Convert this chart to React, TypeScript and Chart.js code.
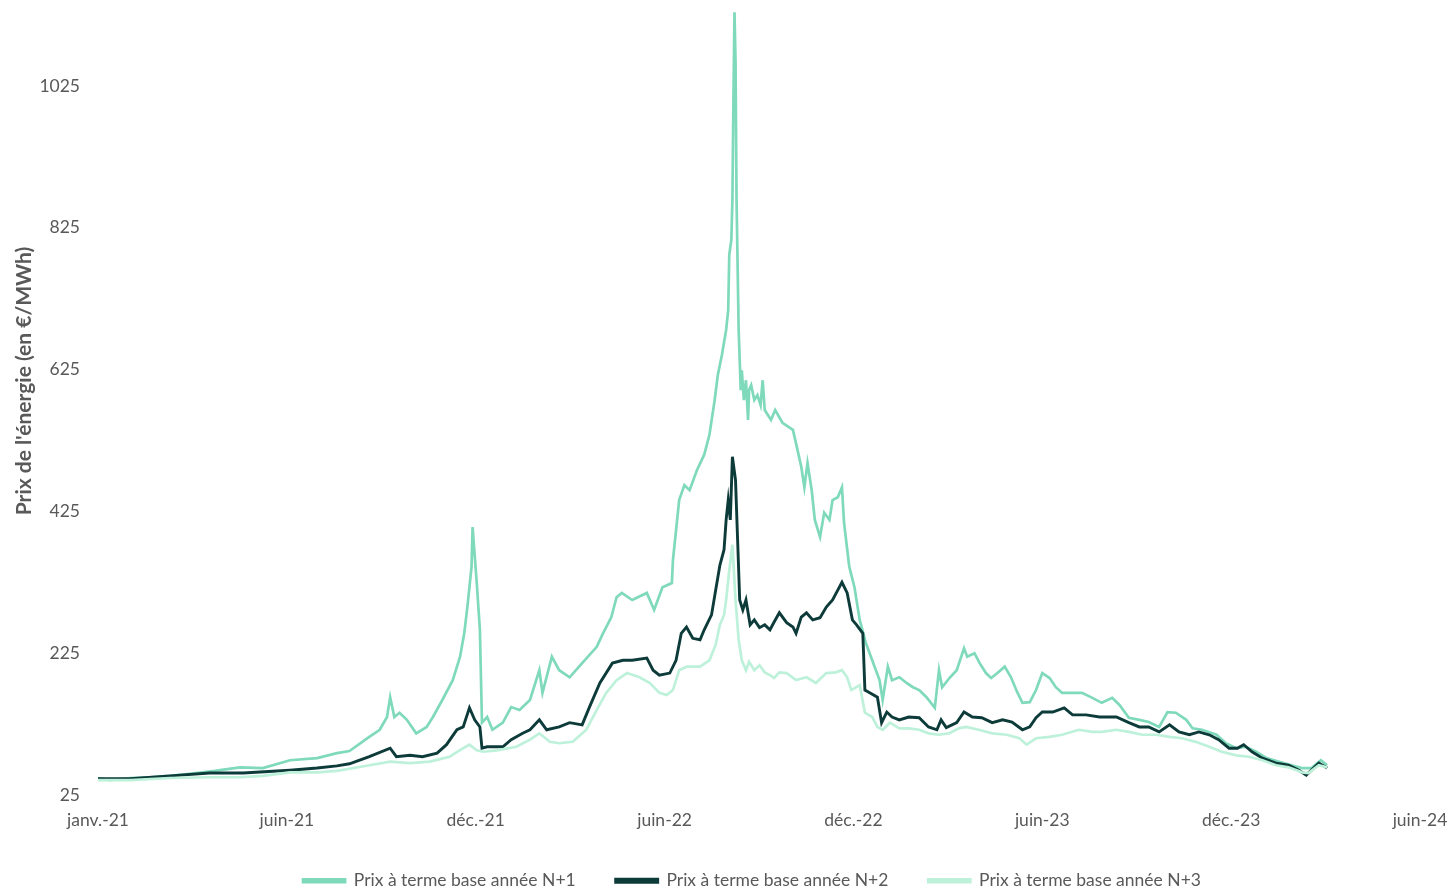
import React, { useEffect, useRef } from "react";
import { Chart, registerables } from "chart.js";

Chart.register(...registerables);

// x = days since 31/12/2020
const xTickDays = [0, 181, 362, 543, 724, 905, 1086, 1267];
const xTickLabels = ["janv.-21", "juin-21", "déc.-21", "juin-22", "déc.-22", "juin-23", "déc.-23", "juin-24"];
const yTicks = [25, 225, 425, 625, 825, 1025];
const seriesLabels = ["Prix à terme base année N+1", "Prix à terme base année N+2", "Prix à terme base année N+3"];
const yTitle = "Prix de l'énergie (en €/MWh)";

const n1Days = [0,11,31,50,69,88,112,136,158,184,210,229,241,260,270,277,280,284,289,296,305,315,321,330,340,347,351,354,358,359,363,366,368,373,378,388,396,404,414,423,426,435,442,452,464,478,484,492,497,502,512,526,533,541,550,551,557,562,567,574,581,586,591,594,598,602,604,605,607,608,609,610,611,612,614,616,617,619,621,623,624,626,629,632,635,637,639,642,645,649,656,666,669,674,677,680,684,687,692,696,701,704,709,713,715,720,725,730,736,742,749,752,757,761,768,775,781,787,794,802,806,809,816,823,830,833,840,845,851,856,862,869,875,881,886,893,899,905,912,918,924,934,943,953,962,972,979,988,998,1007,1017,1025,1033,1043,1049,1058,1072,1081,1091,1100,1110,1120,1132,1144,1154,1163,1172,1178];
const n1Values = [49,46,49,50,52,55,59,64,63,74,77,84,87,107,117,135,163,135,141,131,112,121,135,159,187,220,253,290,347,403,324,258,127,135,117,127,149,145,159,201,169,220,201,191,211,234,253,276,304,310,300,310,286,318,324,356,441,462,455,483,505,533,582,617,646,681,709,787,808,864,1005,1129,1061,864,681,596,624,582,610,554,596,603,582,589,575,610,568,561,554,568,550,540,521,488,459,493,455,413,389,423,413,441,445,459,409,347,318,272,239,215,187,159,206,187,191,183,177,173,163,148,201,177,190,201,232,220,225,211,197,190,197,206,191,170,155,156,173,197,190,177,169,169,169,162,155,162,152,134,131,128,121,142,141,131,119,117,110,98,91,93,86,77,72,67,63,63,74,67];

const n2Days = [0,31,69,107,139,184,210,229,241,260,280,286,299,311,325,334,344,350,356,361,366,368,373,388,396,407,414,423,430,442,452,464,471,481,493,503,512,526,532,538,548,554,559,564,570,577,581,588,592,596,600,602,604,606,608,611,613,615,618,621,625,629,634,639,644,648,653,660,666,669,674,679,685,692,698,704,709,713,718,723,727,733,735,740,747,751,756,761,768,777,787,796,804,808,813,823,830,838,847,857,867,876,886,893,899,905,915,926,934,947,960,976,988,998,1007,1017,1027,1036,1046,1055,1065,1074,1084,1092,1098,1106,1116,1129,1141,1151,1158,1170,1178];
const n2Values = [48,48,52,56,56,60,63,66,69,79,91,79,81,79,84,96,117,121,148,131,121,91,93,93,103,112,117,131,117,121,127,124,149,183,211,215,215,218,201,194,197,215,253,262,246,244,258,279,314,349,371,413,441,413,502,469,385,300,286,300,265,272,261,265,258,269,282,268,262,253,276,282,272,275,290,300,314,325,310,272,265,253,173,169,163,127,142,135,131,135,134,121,117,131,120,127,142,135,134,127,131,128,117,121,134,142,142,148,138,138,135,135,127,121,121,114,124,114,110,114,110,103,91,91,96,86,77,70,67,60,53,70,63];

const n3Days = [0,31,69,107,136,158,184,210,229,241,260,280,299,318,337,350,356,363,369,382,401,414,423,433,442,455,468,478,487,497,507,519,529,538,545,551,557,564,577,586,592,596,600,602,605,608,611,614,617,621,624,629,634,639,644,648,653,660,669,679,688,698,707,713,718,722,730,735,742,747,752,759,768,777,787,796,806,816,825,832,844,857,871,883,890,899,912,924,940,953,962,976,988,1001,1014,1027,1039,1052,1065,1077,1091,1103,1116,1129,1141,1154,1160,1170,1178];
const n3Values = [46,46,49,50,50,52,57,57,59,62,67,72,70,72,79,91,96,88,86,88,93,103,112,100,98,100,117,145,169,187,197,191,183,169,166,173,201,206,206,215,237,265,279,300,342,378,300,244,215,201,213,201,208,198,194,190,198,197,187,191,183,197,198,201,191,173,180,141,135,121,117,127,119,119,117,112,110,112,119,121,117,112,110,105,96,105,107,110,117,114,114,117,114,110,110,107,105,100,93,86,81,79,74,67,64,57,56,67,64];

const seriesColors = ["#7fd9bb", "#0d3b3a", "#bdf1da"];
const FONT = "Lato, 'Open Sans', 'Noto Sans', sans-serif";
const GREY = "#595959";

const toPoints = (days: number[], vals: number[]) => days.map((d, i) => ({ x: d, y: vals[i] }));

const yTitlePlugin = {
  id: "yTitlePlugin",
  afterDraw(chart: any) {
    const ctx = chart.ctx;
    ctx.save();
    ctx.translate(24, 381);
    ctx.rotate(-Math.PI / 2);
    ctx.font = `bold 21px ${FONT}`;
    ctx.fillStyle = GREY;
    ctx.textAlign = "center";
    ctx.textBaseline = "middle";
    ctx.fillText(yTitle, 0, 0);
    ctx.restore();
  },
};

const legendFitPlugin = {
  id: "legendFitPlugin",
  beforeInit(chart: any) {
    const legend = chart.legend;
    if (!legend) return;
    const orig = legend.fit;
    legend.fit = function () {
      orig.call(this);
      this.height = 61;
    };
  },
  afterLayout(chart: any) {
    const legend = chart.legend;
    if (!legend) return;
    legend.left += 42;
    legend.right += 42;
  },
};

const zeroPadding = (scale: any) => {
  scale.paddingLeft = 0;
  scale.paddingRight = 0;
  scale.paddingTop = 0;
  scale.paddingBottom = 0;
};

export default function App() {
  const ref = useRef<HTMLCanvasElement | null>(null);
  useEffect(() => {
    document.body.style.margin = "0";
    if (!ref.current) return;
    const chart = new Chart(ref.current, {
      type: "line",
      data: {
        datasets: [
          { label: seriesLabels[0], data: toPoints(n1Days, n1Values), borderColor: seriesColors[0], backgroundColor: seriesColors[0], borderWidth: 2.7, pointRadius: 0, tension: 0, order: 3 },
          { label: seriesLabels[1], data: toPoints(n2Days, n2Values), borderColor: seriesColors[1], backgroundColor: seriesColors[1], borderWidth: 2.9, pointRadius: 0, tension: 0, order: 2 },
          { label: seriesLabels[2], data: toPoints(n3Days, n3Values), borderColor: seriesColors[2], backgroundColor: seriesColors[2], borderWidth: 2.7, pointRadius: 0, tension: 0, order: 1 },
        ],
      },
      options: {
        responsive: false,
        animation: false,
        layout: { padding: { left: 0, right: 31, top: 8, bottom: 0 } },
        plugins: {
          tooltip: { enabled: false },
          legend: {
            position: "bottom",
            labels: {
              boxWidth: 42,
              boxHeight: 3,
              padding: 40,
              color: GREY,
              font: { family: FONT, size: 17.5 },
              sort: (a: any, b: any) => a.datasetIndex - b.datasetIndex,
            },
          },
        },
        scales: {
          x: {
            type: "linear",
            min: 0,
            max: 1267,
            grid: { display: false, drawTicks: false },
            border: { display: false },
            afterBuildTicks: (axis: any) => {
              axis.ticks = xTickDays.map((v) => ({ value: v }));
            },
            afterFit: (scale: any) => {
              scale.height = 37;
              zeroPadding(scale);
            },
            ticks: {
              autoSkip: false,
              maxRotation: 0,
              padding: 15,
              color: GREY,
              font: { family: FONT, size: 17.5 },
              callback: (_v: any, i: number) => xTickLabels[i],
            },
          },
          y: {
            min: 25,
            max: 1135,
            grid: { display: false, drawTicks: false },
            border: { display: false },
            afterBuildTicks: (axis: any) => {
              axis.ticks = yTicks.map((v) => ({ value: v }));
            },
            afterFit: (scale: any) => {
              scale.width = 98;
              zeroPadding(scale);
            },
            ticks: {
              padding: 18,
              color: GREY,
              font: { family: FONT, size: 17.5 },
              callback: (v: any) => String(v),
            },
          },
        },
      },
      plugins: [yTitlePlugin, legendFitPlugin],
    });
    return () => chart.destroy();
  }, []);
  return (
    <div style={{ width: 1451, height: 893 }}>
      <canvas ref={ref} width={1451} height={893} style={{ display: "block" }} />
    </div>
  );
}
